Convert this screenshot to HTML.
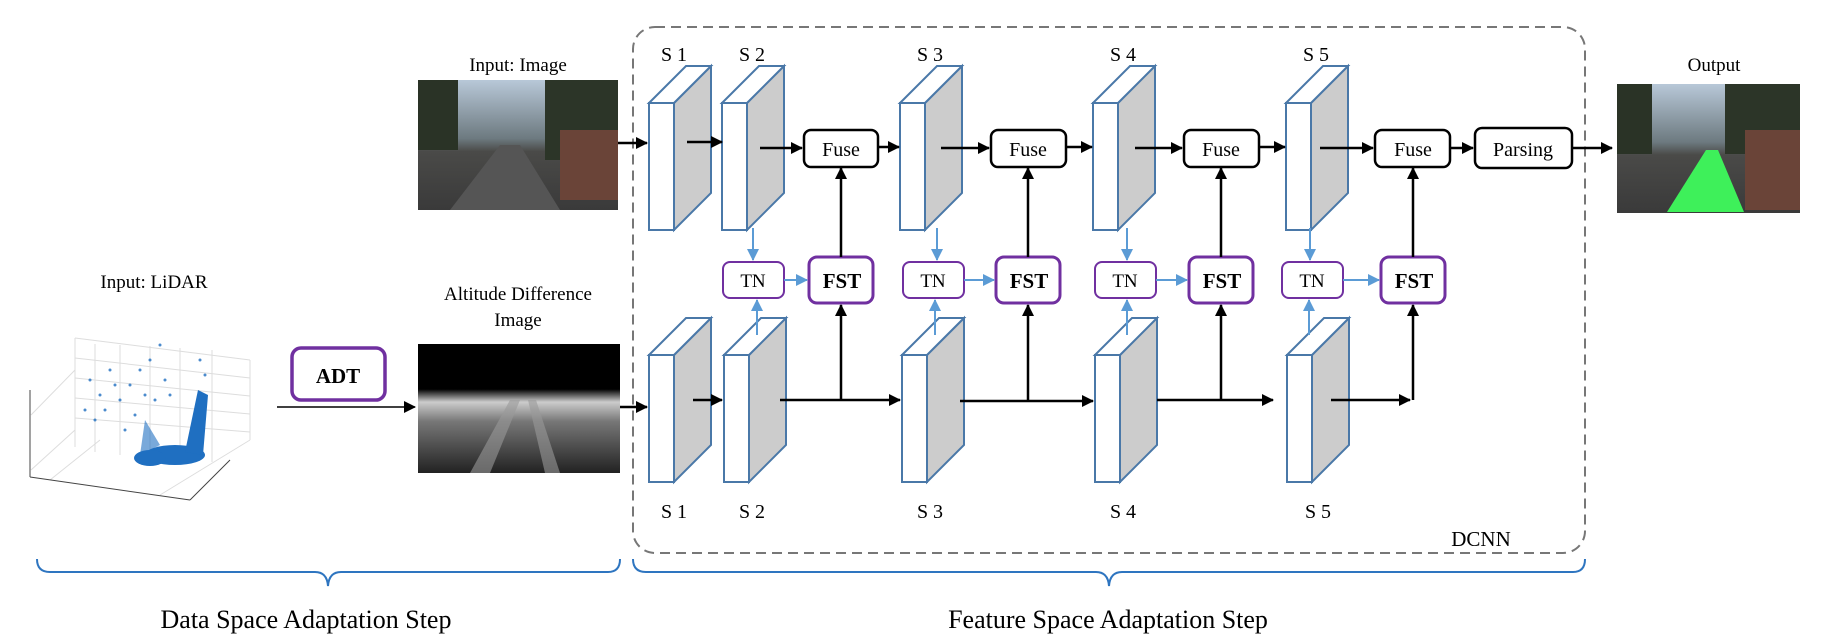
<!DOCTYPE html>
<html><head><meta charset="utf-8"><style>
html,body{margin:0;padding:0;background:#fff;}
svg{display:block;}
text{font-family:"Liberation Serif",serif;fill:#000;}
</style></head><body>
<svg width="1833" height="641" viewBox="0 0 1833 641" xmlns="http://www.w3.org/2000/svg" font-family="Liberation Serif, serif">
<defs>
<marker id="abl" markerWidth="12" markerHeight="12" refX="11" refY="6" orient="auto" markerUnits="userSpaceOnUse"><path d="M0,0 L12,6 L0,12 z" fill="#000"/></marker>
<marker id="bl" markerWidth="12" markerHeight="12" refX="11" refY="6" orient="auto" markerUnits="userSpaceOnUse"><path d="M0,0 L12,6 L0,12 z" fill="#5b9bd5"/></marker>
<linearGradient id="sky" x1="0" y1="0" x2="0" y2="1">
<stop offset="0" stop-color="#b8c8d8"/><stop offset="0.45" stop-color="#6d7a80"/><stop offset="0.55" stop-color="#4a4a48"/><stop offset="1" stop-color="#3a3a3a"/></linearGradient>
<linearGradient id="alt" x1="0" y1="0" x2="0" y2="1">
<stop offset="0" stop-color="#000"/><stop offset="0.35" stop-color="#000"/><stop offset="0.45" stop-color="#ccc"/><stop offset="0.6" stop-color="#777"/><stop offset="1" stop-color="#222"/></linearGradient>
<g id="blk">
<rect x="0" y="0" width="25" height="127" fill="#fff" stroke="#4a78a8" stroke-width="2"/>
<polygon points="25,0 62,-37 62,90 25,127" fill="#cccccc" stroke="#4a78a8" stroke-width="2"/>
<polygon points="0,0 37,-37 62,-37 25,0" fill="#fff" stroke="#4a78a8" stroke-width="2"/>
</g>
</defs>

<rect x="633" y="27" width="952" height="526" rx="22" fill="none" stroke="#777" stroke-width="2" stroke-dasharray="10,6"/>
<text x="1481" y="546" font-size="21" text-anchor="middle">DCNN</text>

<!-- LiDAR plot -->
<text x="154" y="288" font-size="19" text-anchor="middle">Input: LiDAR</text>
<g stroke="#ddd" stroke-width="1" fill="none">
<path d="M75,338 L250,360 M75,358 L250,378 M75,378 L250,396 M75,398 L250,414 M75,418 L250,432"/>
<path d="M75,338 L75,447 M95,344 L95,452 M120,345 L120,455 M150,346 L150,458 M180,348 L180,460 M212,350 L212,462 M250,360 L250,440"/>
<path d="M31,415 L75,370 M31,470 L75,430 M50,480 L100,440 M160,495 L250,440"/>
</g>
<g stroke="#444" stroke-width="1" fill="none"><path d="M30,477 L190,500 M190,500 L230,460 M30,390 L30,477"/></g>
<g fill="#1f6fc1">
<ellipse cx="175" cy="455" rx="30" ry="10"/>
<ellipse cx="150" cy="458" rx="16" ry="8"/>
<path d="M185,452 L198,390 L208,395 L203,455 z"/>
<path d="M140,455 L145,420 L160,445 z" opacity="0.6"/>
</g>
<g fill="#1f6fc1" opacity="0.8">
<circle cx="90" cy="380" r="1.5"/><circle cx="100" cy="395" r="1.5"/><circle cx="110" cy="370" r="1.5"/><circle cx="120" cy="400" r="1.5"/><circle cx="130" cy="385" r="1.5"/><circle cx="140" cy="370" r="1.5"/><circle cx="150" cy="360" r="1.5"/><circle cx="160" cy="345" r="1.5"/><circle cx="165" cy="380" r="1.5"/><circle cx="155" cy="400" r="1.5"/><circle cx="200" cy="360" r="1.5"/><circle cx="205" cy="375" r="1.5"/><circle cx="95" cy="420" r="1.5"/><circle cx="85" cy="410" r="1.5"/><circle cx="125" cy="430" r="1.5"/><circle cx="135" cy="415" r="1.5"/><circle cx="170" cy="395" r="1.5"/><circle cx="115" cy="385" r="1.5"/><circle cx="105" cy="410" r="1.5"/><circle cx="145" cy="395" r="1.5"/>
</g>

<rect x="292" y="348" width="93" height="52" rx="9" fill="#fff" stroke="#7030a0" stroke-width="3.5"/>
<text x="338" y="383" font-size="21" font-weight="bold" text-anchor="middle">ADT</text>
<line x1="277" y1="407" x2="415" y2="407" stroke="#000" stroke-width="1.5" marker-end="url(#abl)"/>

<text x="518" y="300" font-size="19" text-anchor="middle">Altitude Difference</text>
<text x="518" y="326" font-size="19" text-anchor="middle">Image</text>
<rect x="418" y="344" width="202" height="129" fill="url(#alt)"/>
<path d="M470,473 L510,400 L520,400 L490,473 z M545,473 L528,400 L536,400 L560,473 z" fill="#999" opacity="0.6"/>

<text x="518" y="71" font-size="19" text-anchor="middle">Input: Image</text>
<rect x="418" y="80" width="200" height="130" fill="url(#sky)"/>
<rect x="418" y="80" width="40" height="70" fill="#2a3326"/>
<rect x="545" y="80" width="73" height="80" fill="#2c3528"/>
<rect x="560" y="130" width="58" height="70" fill="#6a4438"/>
<path d="M500,145 L520,145 L560,210 L450,210 z" fill="#555"/>

<text x="1714" y="71" font-size="19" text-anchor="middle">Output</text>
<rect x="1617" y="84" width="183" height="129" fill="url(#sky)"/>
<rect x="1617" y="84" width="35" height="70" fill="#2a3326"/>
<rect x="1725" y="84" width="75" height="70" fill="#2c3528"/>
<rect x="1745" y="130" width="55" height="80" fill="#6a4438"/>
<path d="M1706,150 L1718,150 L1744,212 L1667,212 z" fill="#3ef05a"/>

<use href="#blk" x="649" y="103"/>
<use href="#blk" x="722" y="103"/>
<use href="#blk" x="900" y="103"/>
<use href="#blk" x="1093" y="103"/>
<use href="#blk" x="1286" y="103"/>
<use href="#blk" x="649" y="355"/>
<use href="#blk" x="724" y="355"/>
<use href="#blk" x="902" y="355"/>
<use href="#blk" x="1095" y="355"/>
<use href="#blk" x="1287" y="355"/>

<g font-size="20" text-anchor="middle">
<text x="674" y="61">S 1</text><text x="752" y="61">S 2</text><text x="930" y="61">S 3</text><text x="1123" y="61">S 4</text><text x="1316" y="61">S 5</text>
<text x="674" y="518">S 1</text><text x="752" y="518">S 2</text><text x="930" y="518">S 3</text><text x="1123" y="518">S 4</text><text x="1318" y="518">S 5</text>
</g>

<g fill="#fff" stroke="#000" stroke-width="2.5">
<rect x="804" y="130" width="74" height="37" rx="7"/>
<rect x="991" y="130" width="75" height="37" rx="7"/>
<rect x="1184" y="130" width="75" height="37" rx="7"/>
<rect x="1375" y="130" width="75" height="37" rx="7"/>
<rect x="1475" y="128" width="97" height="40" rx="7"/>
</g>
<g font-size="20" text-anchor="middle">
<text x="841" y="156">Fuse</text><text x="1028" y="156">Fuse</text><text x="1221" y="156">Fuse</text><text x="1413" y="156">Fuse</text><text x="1523" y="156">Parsing</text>
</g>

<g fill="#fff" stroke="#7030a0">
<rect x="723" y="262" width="61" height="36" rx="7" stroke-width="2"/>
<rect x="903" y="262" width="61" height="36" rx="7" stroke-width="2"/>
<rect x="1095" y="262" width="61" height="36" rx="7" stroke-width="2"/>
<rect x="1282" y="262" width="61" height="36" rx="7" stroke-width="2"/>
<rect x="809" y="257" width="64" height="46" rx="8" stroke-width="3"/>
<rect x="996" y="257" width="64" height="46" rx="8" stroke-width="3"/>
<rect x="1189" y="257" width="64" height="46" rx="8" stroke-width="3"/>
<rect x="1381" y="257" width="64" height="46" rx="8" stroke-width="3"/>
</g>
<g font-size="19" text-anchor="middle">
<text x="753" y="287">TN</text><text x="933" y="287">TN</text><text x="1125" y="287">TN</text><text x="1312" y="287">TN</text>
</g>
<g font-size="21" font-weight="bold" text-anchor="middle">
<text x="842" y="288">FST</text><text x="1029" y="288">FST</text><text x="1222" y="288">FST</text><text x="1414" y="288">FST</text>
</g>

<g stroke="#5b9bd5" stroke-width="2" marker-end="url(#bl)">
<line x1="753" y1="228" x2="753" y2="260"/><line x1="757" y1="335" x2="757" y2="300"/><line x1="784" y1="280" x2="807" y2="280"/>
<line x1="937" y1="228" x2="937" y2="260"/><line x1="935" y1="335" x2="935" y2="300"/><line x1="964" y1="280" x2="994" y2="280"/>
<line x1="1127" y1="228" x2="1127" y2="260"/><line x1="1127" y1="335" x2="1127" y2="300"/><line x1="1156" y1="280" x2="1187" y2="280"/>
<line x1="1310" y1="228" x2="1310" y2="260"/><line x1="1309" y1="335" x2="1309" y2="300"/><line x1="1343" y1="280" x2="1379" y2="280"/>
</g>

<g stroke="#000" stroke-width="2.5" fill="none" marker-end="url(#abl)">
<line x1="618" y1="143" x2="647" y2="143"/>
<line x1="687" y1="142" x2="722" y2="142"/>
<line x1="760" y1="148" x2="802" y2="148"/>
<line x1="878" y1="147" x2="899" y2="147"/>
<line x1="941" y1="148" x2="989" y2="148"/>
<line x1="1066" y1="147" x2="1092" y2="147"/>
<line x1="1135" y1="148" x2="1182" y2="148"/>
<line x1="1259" y1="147" x2="1285" y2="147"/>
<line x1="1320" y1="148" x2="1373" y2="148"/>
<line x1="1450" y1="148" x2="1473" y2="148"/>
<line x1="1572" y1="148" x2="1612" y2="148"/>
<line x1="841" y1="257" x2="841" y2="168"/>
<line x1="1028" y1="257" x2="1028" y2="168"/>
<line x1="1221" y1="257" x2="1221" y2="168"/>
<line x1="1413" y1="257" x2="1413" y2="168"/>
<line x1="620" y1="407" x2="647" y2="407"/>
<line x1="693" y1="400" x2="722" y2="400"/>
<line x1="780" y1="400" x2="900" y2="400"/>
<line x1="960" y1="401" x2="1093" y2="401"/>
<line x1="1157" y1="400" x2="1273" y2="400"/>
<line x1="1331" y1="400" x2="1410" y2="400"/>
<line x1="841" y1="400" x2="841" y2="305"/>
<line x1="1028" y1="401" x2="1028" y2="305"/>
<line x1="1221" y1="400" x2="1221" y2="305"/>
<line x1="1413" y1="400" x2="1413" y2="305"/>
</g>

<g stroke="#2e75c0" stroke-width="2" fill="none">
<path d="M37,559 Q37,572 50,572 L315,572 Q327,572 328,586 Q329,572 341,572 L608,572 Q620,572 620,559"/>
<path d="M633,559 Q633,572 646,572 L1096,572 Q1108,572 1109,586 Q1110,572 1122,572 L1573,572 Q1585,572 1585,559"/>
</g>
<text x="306" y="628" font-size="26" text-anchor="middle">Data Space Adaptation Step</text>
<text x="1108" y="628" font-size="26" text-anchor="middle">Feature Space Adaptation Step</text>
</svg>
</body></html>
